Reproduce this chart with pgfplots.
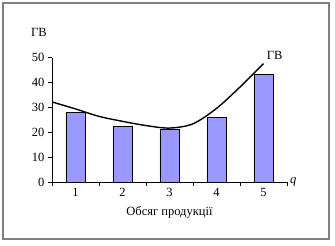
\documentclass[border=0pt]{standalone}
\usepackage{pgfplots}
\pgfplotsset{compat=1.18}
\usepackage{fontspec}
\setmainfont{Liberation Serif}
\definecolor{barblue}{HTML}{9999FF}
\definecolor{framegray}{HTML}{808080}
\begin{document}
\begin{tikzpicture}[font=\fontsize{12.5bp}{14bp}\selectfont]
\begin{axis}[
  at={(0,0)}, anchor=origin,
  scale only axis, width=235bp, height=124.3bp,
  xmin=0.5, xmax=5.5, ymin=0, ymax=50,
  axis lines*=left,
  axis line style={line width=0.8bp},
  xtick={1,2,3,4,5},
  minor xtick={0.5,1.5,2.5,3.5,4.5,5.5},
  ytick={0,10,20,30,40,50},
  tick align=outside,
  major tick length=4bp, minor tick length=4bp,
  every tick/.style={black, line width=0.8bp},
  major x tick style={draw=none},
  xticklabel style={yshift=1.5bp},
  /pgf/number format/assume math mode=true,
  clip=false,
]
\addplot[ybar, bar width=19bp, fill=barblue, draw=black, line width=0.8bp]
  coordinates {(1,28) (2,22.3) (3,21) (4,26) (5,43.2)};
\addplot[smooth, black, line width=1.4bp] coordinates {
 (0.5,32.2) (1,29.4) (1.5,26.4) (2,24.4) (2.5,22.7)
 (3,21.7) (3.5,23.4) (4,29.6) (4.5,38.2) (5,47.6)};
\node at ([xshift=-13bp,yshift=25bp]rel axis cs:0,1) {ГВ};
\node[anchor=west, inner sep=1bp] at ([xshift=2bp,yshift=0bp]rel axis cs:1,0) {\textit{q}};
\node at (axis cs:5.24,50.8) {ГВ};
\node at ([yshift=-30bp]rel axis cs:0.5,0) {Обсяг продукції};
\end{axis}
\draw[framegray, line width=2bp] (-48.5bp,-57bp) rectangle (277bp,178.5bp);
\pgfresetboundingbox
\path (-52bp,-64bp) rectangle (283bp,182bp);
\end{tikzpicture}
\end{document}
